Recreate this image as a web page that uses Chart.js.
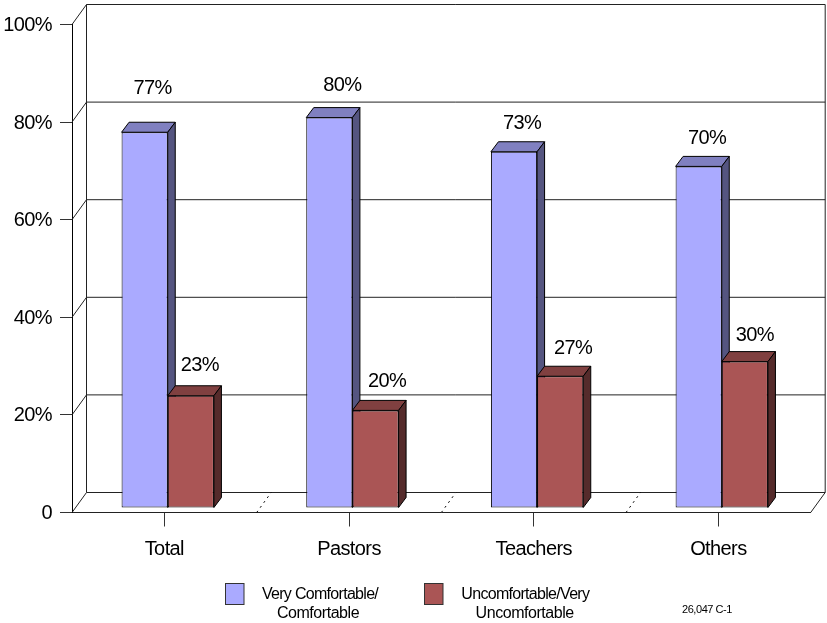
<!DOCTYPE html>
<html>
<head>
<meta charset="utf-8">
<title>Comfort by group</title>
<script src="https://cdn.jsdelivr.net/npm/chart.js@4"></script>
<style>
  html, body { margin: 0; padding: 0; background: #fff; }
  canvas { display: block; }
</style>
</head>
<body>
<canvas id="chart" width="827" height="623"></canvas>
<script>
var categories = ['Total', 'Pastors', 'Teachers', 'Others'];
var comfortable = [77, 80, 73, 70];
var uncomfortable = [23, 20, 27, 30];
var yTicks = [0, 20, 40, 60, 80, 100];
var legendLines = [
  ['Very Comfortable/', 'Comfortable'],
  ['Uncomfortable/Very', 'Uncomfortable']
];
var footnote = '26,047 C-1';

var FONT = '"Liberation Sans", Arial, sans-serif';
var WALL_DX = 14.5, WALL_DY = 20;   // depth of the floor/back wall
var BAR_DX = 7.5, BAR_DY = 10;      // depth of each bar
var BAR_SHIFT_X = 3.4, BAR_SHIFT_Y = 4.5; // bars stand a little way in from the front edge

var shades = [
  { front: '#aaaaff', top: '#8080c0', side: '#555580' },
  { front: '#aa5555', top: '#804040', side: '#552b2b' }
];

// nudges for the value labels, one row per series
var labelNudge = [
  [{ x: 8, y: 44 }, { x: 13, y: 32 }, { x: 8, y: 28 }, { x: 8.5, y: 28 }],
  [{ x: 9, y: 30 }, { x: 11.5, y: 29 }, { x: 13, y: 28 }, { x: 10, y: 26 }]
];

function line(ctx, x1, y1, x2, y2) {
  ctx.beginPath();
  ctx.moveTo(x1, y1);
  ctx.lineTo(x2, y2);
  ctx.stroke();
}

function poly(ctx, pts, fill) {
  ctx.beginPath();
  ctx.moveTo(pts[0][0], pts[0][1]);
  for (var i = 1; i < pts.length; i++) ctx.lineTo(pts[i][0], pts[i][1]);
  ctx.closePath();
  ctx.fillStyle = fill;
  ctx.fill();
  ctx.stroke();
}

var box3d = {
  id: 'box3d',
  beforeDraw: function (chart) {
    // tighter tracking for the axis labels
    chart.ctx.letterSpacing = '-0.6px';
  },
  beforeDatasetsDraw: function (chart) {
    var ctx = chart.ctx, y = chart.scales.y;
    var area = chart.chartArea;
    var l = area.left, r = area.right;
    // back wall, floor and the slanted joins
    ctx.save();
    ctx.strokeStyle = '#222';
    ctx.lineWidth = 1;
    yTicks.forEach(function (t) {
      var py = y.getPixelForValue(t);
      line(ctx, l, py, l + WALL_DX, py - WALL_DY);
      line(ctx, l + WALL_DX, py - WALL_DY, r + WALL_DX, py - WALL_DY);
    });
    var yBack0 = y.getPixelForValue(0) - WALL_DY;
    var yBack100 = y.getPixelForValue(100) - WALL_DY;
    line(ctx, l + WALL_DX, yBack100, l + WALL_DX, yBack0);
    line(ctx, r + WALL_DX, yBack100, r + WALL_DX, yBack0);
    line(ctx, r, area.bottom, r + WALL_DX, yBack0);
    // dotted dividers across the floor between categories
    ctx.save();
    ctx.strokeStyle = '#000';
    ctx.setLineDash([2, 4]);
    var step = (r - l) / categories.length;
    for (var i = 1; i < categories.length; i++) {
      line(ctx, l + step * i, area.bottom, l + step * i + WALL_DX, yBack0);
    }
    ctx.restore();

    // top and side faces, first series first so the red tops lie over the blue sides
    ctx.translate(BAR_SHIFT_X, -BAR_SHIFT_Y);
    ctx.strokeStyle = '#000';
    chart.data.datasets.forEach(function (ds, s) {
      var c = shades[s];
      chart.getDatasetMeta(s).data.forEach(function (bar) {
        var left = bar.x - bar.width / 2, right = bar.x + bar.width / 2;
        var top = bar.y, base = bar.base;
        poly(ctx, [[left, top], [left + BAR_DX, top - BAR_DY], [right + BAR_DX, top - BAR_DY], [right, top]], c.top);
        poly(ctx, [[right, top], [right + BAR_DX, top - BAR_DY], [right + BAR_DX, base - BAR_DY], [right, base]], c.side);
      });
    });
    ctx.restore();
  },
  // the library draws the front faces, moved onto the same plane
  beforeDatasetDraw: function (chart) {
    chart.ctx.save();
    chart.ctx.translate(BAR_SHIFT_X, -BAR_SHIFT_Y);
  },
  afterDatasetDraw: function (chart) {
    chart.ctx.restore();
  },
  // value labels, legend and the small reference code
  afterDraw: function (chart) {
    var ctx = chart.ctx;
    ctx.save();
    ctx.textAlign = 'center';
    ctx.textBaseline = 'middle';
    ctx.fillStyle = '#000';
    ctx.font = '20px ' + FONT;
    chart.data.datasets.forEach(function (ds, s) {
      chart.getDatasetMeta(s).data.forEach(function (bar, i) {
        var n = labelNudge[s][i];
        ctx.fillText(ds.data[i] + '%', bar.x + BAR_SHIFT_X + n.x, bar.y - BAR_SHIFT_Y - n.y);
      });
    });

    var swatchX = [225.5, 424.5];
    var textX = [[320, 318], [525.3, 524.7]];
    ctx.font = '16px ' + FONT;
    ctx.strokeStyle = '#333';
    legendLines.forEach(function (lines, s) {
      ctx.fillStyle = shades[s].front;
      ctx.fillRect(swatchX[s], 583.5, 18.5, 21);
      ctx.strokeRect(swatchX[s], 583.5, 18.5, 21);
      ctx.fillStyle = '#000';
      ctx.letterSpacing = '-0.7px';
      ctx.fillText(lines[0], textX[s][0], 594.5);
      ctx.letterSpacing = '-0.45px';
      ctx.fillText(lines[1], textX[s][1], 614);
    });

    ctx.font = '11px ' + FONT;
    ctx.letterSpacing = '-0.45px';
    ctx.fillText(footnote, 707, 610);
    ctx.restore();
  }
};

new Chart(document.getElementById('chart'), {
  type: 'bar',
  data: {
    labels: categories,
    datasets: [
      { label: legendLines[0].join(' '), data: comfortable, backgroundColor: shades[0].front, borderColor: '#000', borderWidth: 1, borderSkipped: false },
      { label: legendLines[1].join(' '), data: uncomfortable, backgroundColor: shades[1].front, borderColor: '#000', borderWidth: 1, borderSkipped: false }
    ]
  },
  options: {
    responsive: false,
    animation: false,
    layout: { padding: { top: 24.5, right: 16.3, left: 0, bottom: 0 } },
    datasets: { bar: { barPercentage: 1, categoryPercentage: 0.5 } },
    plugins: { legend: { display: false }, title: { display: false }, tooltip: { enabled: false } },
    scales: {
      x: {
        afterFit: function (s) { s.height = 110.5; },
        grid: { offset: false, drawOnChartArea: false, tickLength: 14, color: '#333' },
        border: { display: true, color: '#222' },
        ticks: { color: '#000', padding: 11, maxRotation: 0, font: { family: FONT, size: 20 } }
      },
      y: {
        min: 0,
        max: 100,
        afterFit: function (s) { s.width = 72; },
        afterBuildTicks: function (s) { s.ticks = yTicks.map(function (v) { return { value: v }; }); },
        grid: { drawOnChartArea: false, tickLength: 12, color: '#333' },
        border: { display: true, color: '#000' },
        ticks: {
          color: '#000',
          padding: 8,
          labelOffset: 1,
          font: { family: FONT, size: 20 },
          callback: function (v) { return v === 0 ? '0' : v + '%'; }
        }
      }
    }
  },
  plugins: [box3d]
});
</script>
</body>
</html>
